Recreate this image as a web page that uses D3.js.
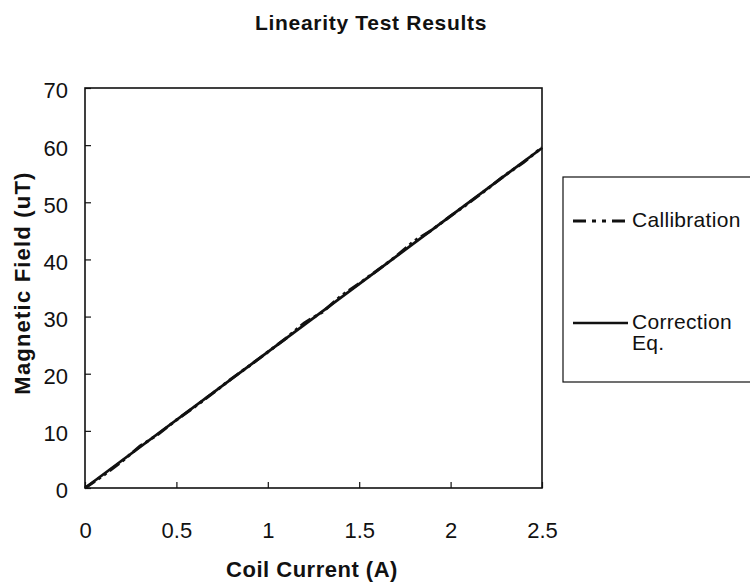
<!DOCTYPE html>
<html>
<head>
<meta charset="utf-8">
<script src="https://cdn.jsdelivr.net/npm/d3@7"></script>
<style>
  body { margin: 0; background: #fff; }
  text { font-family: "Liberation Sans", Arial, sans-serif; fill: #111; }
</style>
</head>
<body>
<div id="chart"></div>
<script>
"use strict"
// Data
var currents = [0, 0.1, 0.2, 0.3, 0.4, 0.5, 0.6, 0.7, 0.8, 0.9, 1.0, 1.1, 1.2, 1.3, 1.4, 1.5, 1.6, 1.7, 1.8, 1.9, 2.0, 2.1, 2.2, 2.3, 2.4, 2.5];
var calibration = [0, 2.2, 4.6, 7.3, 9.4, 11.9, 14.2, 16.6, 19.1, 21.4, 23.8, 26.2, 28.9, 30.8, 33.6, 35.8, 38.1, 40.5, 43.2, 45.2, 47.6, 49.9, 52.3, 54.8, 57.0, 59.6];
var correctionX = [0, 2.5];
var correctionY = [0, 59.5];
var xTicks = [0, 0.5, 1, 1.5, 2, 2.5];
var yTicks = [0, 10, 20, 30, 40, 50, 60, 70];

var width = 750, height = 588;
var margin = {top: 88, left: 85, right: 208, bottom: 100};

var svg = d3.select("#chart").append("svg")
    .attr("width", width)
    .attr("height", height);

var xScale = d3.scaleLinear().domain([0, 2.5]).range([margin.left, width - margin.right]);
var yScale = d3.scaleLinear().domain([0, 70]).range([height - margin.bottom, margin.top]);

// Title
svg.append("text")
    .attr("x", 371).attr("y", 30)
    .attr("text-anchor", "middle")
    .style("font-size", "21px").style("font-weight", "bold")
    .style("letter-spacing", "0.7px")
    .text("Linearity Test Results");

// Plot frame
svg.append("rect")
    .attr("x", xScale(0)).attr("y", yScale(70))
    .attr("width", xScale(2.5) - xScale(0))
    .attr("height", yScale(0) - yScale(70))
    .attr("fill", "none").attr("stroke", "#111").attr("stroke-width", 1.6);

// Axes: ticks point inward, no domain line (frame draws it)
var xAxis = d3.axisBottom(xScale).tickValues(xTicks).tickSize(-6).tickPadding(34)
    .tickFormat(function(d) { return d; });
var gx = svg.append("g").attr("transform", "translate(0," + yScale(0) + ")").call(xAxis);
gx.select(".domain").remove();
gx.selectAll("line").attr("stroke", "#111").attr("stroke-width", 1.2);
gx.selectAll("text").style("font-size", "22px").attr("fill", "#111");

var yAxis = d3.axisLeft(yScale).tickValues(yTicks).tickSize(-6).tickPadding(17);
var gy = svg.append("g").attr("transform", "translate(" + xScale(0) + ",0)").call(yAxis);
gy.select(".domain").remove();
gy.selectAll("line").attr("stroke", "#111").attr("stroke-width", 1.2);
gy.selectAll("text").style("font-size", "22px").attr("fill", "#111")
    .attr("dy", "0.45em");

// Axis titles
svg.append("text")
    .attr("x", 312).attr("y", 577)
    .attr("text-anchor", "middle")
    .style("font-size", "22px").style("font-weight", "bold")
    .style("letter-spacing", "0.5px")
    .text("Coil Current (A)");

svg.append("text")
    .attr("transform", "translate(30,283) rotate(-90)")
    .attr("text-anchor", "middle")
    .style("font-size", "22px").style("font-weight", "bold")
    .style("letter-spacing", "1.2px")
    .text("Magnetic Field (uT)");

// Lines
var line = d3.line()
    .x(function(d) { return xScale(d[0]); })
    .y(function(d) { return yScale(d[1]); });

var calData = currents.map(function(c, i) { return [c, calibration[i]]; });
var corData = correctionX.map(function(c, i) { return [c, correctionY[i]]; });

var dashPattern = "12,4,3,4,3,4";

svg.append("path").datum(corData)
    .attr("d", line)
    .attr("fill", "none").attr("stroke", "#111").attr("stroke-width", 2.8);

svg.append("path").datum(calData)
    .attr("d", line)
    .attr("fill", "none").attr("stroke", "#111").attr("stroke-width", 3)
    .attr("stroke-dasharray", dashPattern);

// Legend (box runs off the right edge, as in the original)
var lg = svg.append("g");
lg.append("rect")
    .attr("x", 563).attr("y", 177).attr("width", 200).attr("height", 205)
    .attr("fill", "none").attr("stroke", "#111").attr("stroke-width", 1.2);

lg.append("line")
    .attr("x1", 573).attr("x2", 628).attr("y1", 221).attr("y2", 221)
    .attr("stroke", "#111").attr("stroke-width", 2.8)
    .attr("stroke-dasharray", "13,6,4,6,4,6");
lg.append("text").attr("x", 632).attr("y", 227)
    .style("font-size", "21px").style("letter-spacing", "0.3px").text("Callibration");

lg.append("line")
    .attr("x1", 573).attr("x2", 628).attr("y1", 323).attr("y2", 323)
    .attr("stroke", "#111").attr("stroke-width", 2.4);
lg.append("text").attr("x", 632).attr("y", 329)
    .style("font-size", "21px").style("letter-spacing", "0.3px").text("Correction");
lg.append("text").attr("x", 632).attr("y", 350)
    .style("font-size", "21px").style("letter-spacing", "0.3px").text("Eq.");
</script>
</body>
</html>
